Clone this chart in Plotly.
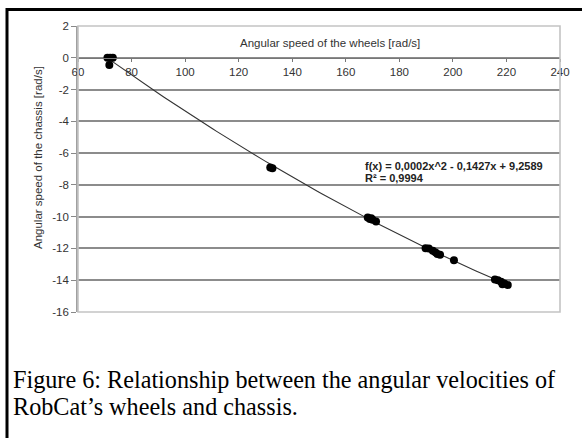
import numpy as np
import plotly.graph_objects as go

# Data
wheel_speed = [71.0, 72.0, 73.0, 71.7,
               131.8, 132.6,
               168.2, 169.0, 169.5, 170.0, 171.3,
               189.8, 191.0, 192.5, 193.5, 194.2, 195.2,
               200.4,
               215.7, 216.8, 218.0, 218.5, 219.2, 220.5]
chassis_speed = [0.0, 0.0, 0.0, -0.45,
                 -6.9, -6.95,
                 -10.05, -10.15, -10.1, -10.2, -10.3,
                 -11.98, -12.0, -12.15, -12.25, -12.35, -12.4,
                 -12.75,
                 -13.95, -14.0, -14.1, -14.25, -14.2, -14.3]
x_ticks = [60, 80, 100, 120, 140, 160, 180, 200, 220, 240]
y_ticks = [2, 0, -2, -4, -6, -8, -10, -12, -14, -16]
eq_text = "f(x) = 0,0002x^2 - 0,1427x + 9,2589"
r2_text = "R² = 0,9994"
x_title = "Angular speed of the wheels [rad/s]"
y_title = "Angular speed of the chassis [rad/s]"
caption1 = "Figure 6: Relationship between the angular velocities of"
caption2 = "RobCat’s wheels and chassis."

# Polynomial trend line (order 2) fitted to the data
coef = np.polyfit(wheel_speed, chassis_speed, 2)
xs = np.linspace(min(wheel_speed), max(wheel_speed), 100)
ys = np.polyval(coef, xs)

W, H = 582, 438
pl, pr, pt, pb = 78, 560, 26, 312          # plot area in pixels
L, R, T, B = pl, W - pr, pt, H - pb
pw, ph = pr - pl, pb - pt
def px(x):
    return (x - pl) / pw
def py(y):
    return (pb - y) / ph

fig = go.Figure()
fig.add_trace(go.Scatter(x=xs, y=ys, mode="lines",
                         line=dict(color="#333333", width=1.1),
                         hoverinfo="skip", showlegend=False))
fig.add_trace(go.Scatter(x=wheel_speed, y=chassis_speed, mode="markers",
                         marker=dict(color="black", size=8),
                         showlegend=False))

font_sans = "Liberation Sans, Arial, sans-serif"
fig.update_layout(
    width=W, height=H,
    margin=dict(l=L, r=R, t=T, b=B, pad=0, autoexpand=False),
    paper_bgcolor="white", plot_bgcolor="white",
    font=dict(family=font_sans, size=11, color="#333333"),
    showlegend=False,
    xaxis=dict(range=[60, 240], tickvals=x_ticks, ticktext=[str(v) for v in x_ticks],
               anchor="free", position=16 / 18, showgrid=False, zeroline=False,
               showline=True, linecolor="#777777", linewidth=1.4,
               ticks="outside", ticklen=3, tickcolor="#777777",
               tickfont=dict(size=11.5, color="#333333"), automargin=False),
    yaxis=dict(range=[-16, 2], tickvals=y_ticks, ticktext=[str(v) for v in y_ticks],
               showgrid=True, gridcolor="#8c8c8c", gridwidth=1.5, zeroline=False,
               showline=True, linecolor="#a0a0a0", linewidth=1.6,
               ticks="outside", ticklen=5, tickcolor="#888888",
               tickfont=dict(size=11.5, color="#333333"), automargin=False),
)

# light plot border (top/right/bottom)
fig.add_shape(type="rect", xref="x domain", yref="y domain", x0=0, x1=1, y0=0, y1=1,
              line=dict(color="#c4c4c4", width=1.6), fillcolor="rgba(0,0,0,0)",
              layer="above")

# black frame: its right and bottom sides lie beyond the picture
fig.add_shape(type="rect", xref="paper", yref="paper",
              x0=px(7), x1=px(620), y0=py(9.5), y1=py(480),
              line=dict(color="black", width=3), fillcolor="rgba(0,0,0,0)")

fig.add_annotation(x=px(330), y=py(43), xref="paper", yref="paper",
                   text=x_title, showarrow=False, xanchor="center", yanchor="middle",
                   font=dict(size=11.5, color="#333333", family=font_sans))
fig.add_annotation(x=px(38), y=py(158), xref="paper", yref="paper",
                   text=y_title, showarrow=False, textangle=-90,
                   xanchor="center", yanchor="middle",
                   font=dict(size=11.5, color="#333333", family=font_sans))
fig.add_annotation(x=px(363), y=py(165.5), xref="paper", yref="paper",
                   text="<b>" + eq_text + "</b>", showarrow=False,
                   xanchor="left", yanchor="middle",
                   font=dict(size=11, color="#222222", family=font_sans))
fig.add_annotation(x=px(363), y=py(178), xref="paper", yref="paper",
                   text="<b>" + r2_text + "</b>", showarrow=False,
                   xanchor="left", yanchor="middle",
                   font=dict(size=11, color="#222222", family=font_sans))

font_serif = "Liberation Serif, Times New Roman, serif"
fig.add_annotation(x=px(11), y=py(379.5), xref="paper", yref="paper",
                   text=caption1, showarrow=False, xanchor="left", yanchor="middle",
                   font=dict(size=24.2, color="black", family=font_serif))
fig.add_annotation(x=px(11), y=py(406.5), xref="paper", yref="paper",
                   text=caption2, showarrow=False, xanchor="left", yanchor="middle",
                   font=dict(size=24.2, color="black", family=font_serif))

fig.write_html("out.html", config={"displayModeBar": False},
               post_script="document.body.style.margin='0';"
                           "document.body.style.padding='0';"
                           "document.documentElement.style.overflow='hidden';"
                           "document.body.style.overflow='hidden';")
